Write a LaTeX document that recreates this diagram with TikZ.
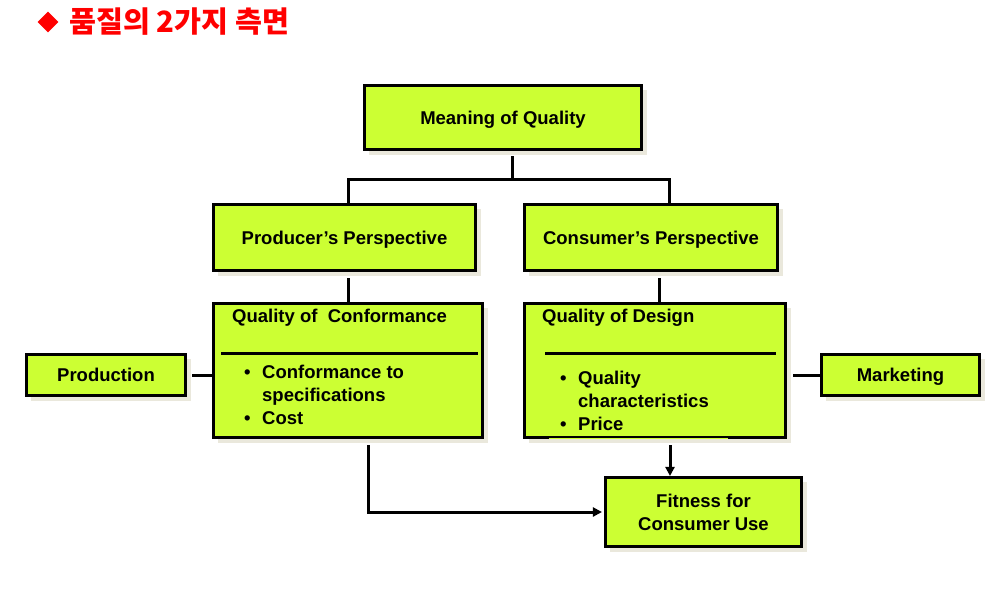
\documentclass[tikz,border=0pt]{standalone}
\usepackage{fontspec}
\setmainfont{Liberation Sans}
\newfontfamily\krfont{Noto Sans CJK KR}
\usetikzlibrary{arrows.meta,shadows,shapes.geometric}
\definecolor{qgreen}{HTML}{CCFF33}
\definecolor{shadowc}{HTML}{EAE8DC}
\definecolor{titlered}{HTML}{FF0000}
\tikzset{
  qbox/.style={draw=black, line width=2.6pt, fill=qgreen, inner sep=0pt,
    drop shadow={shadow xshift=5pt, shadow yshift=-5pt, fill=shadowc, opacity=1},
    font=\fontsize{18.5}{23}\selectfont\bfseries, align=center,
    text height=15pt, text depth=1.8pt},
  qtext/.style={inner sep=0pt, font=\fontsize{18.5}{23}\selectfont\bfseries},
  conn/.style={draw=black, line width=3pt},
  arr/.style={conn, -{Triangle[length=9pt,width=9pt]}},
  qrule/.style={draw=black, line width=3pt}
}
\begin{document}
\begin{tikzpicture}[x=1pt,y=-1pt]
\useasboundingbox (0,0) rectangle (1002,595);
% title
\node[diamond, fill=titlered, inner sep=0pt, minimum width=21pt, minimum height=21pt] (dia) at (48,22) {};
\node[anchor=west, inner sep=0pt, text=titlered, font=\krfont\bfseries\fontsize{29.3}{31}\selectfont] (title) at (69,22) {품질의 2가지 측면};
% boxes
\node[qbox, minimum width=277.5pt, minimum height=64.5pt] (meaning) at (503,117.5) {Meaning of Quality};
\node[qbox, minimum width=262.5pt, minimum height=66.5pt] (prod) at (344.5,237.5) {Producer’s Perspective};
\node[qbox, minimum width=253.5pt, minimum height=66.5pt] (cons) at (651,237.5) {Consumer’s Perspective};
\node[qbox, minimum width=269.5pt, minimum height=134.5pt] (conf) at (348,370.5) {};
\node[qbox, minimum width=261.5pt, minimum height=134.5pt] (design) at (655,370.5) {};
\node[qbox, minimum width=159.5pt, minimum height=41.5pt] (production) at (106,375) {Production};
\node[qbox, minimum width=158.5pt, minimum height=41.5pt] (marketing) at (900.5,375) {Marketing};
\node[qbox, minimum width=196.5pt, minimum height=69.5pt, text height=38pt, text depth=1.8pt] (fitness) at (703.5,512) {Fitness for\\Consumer Use};
% conformance box contents
\node[qtext, anchor=west] (confT) at (232,317.5) {Quality of\ \ Conformance};
\draw[qrule] (221,353) -- (478,353);
\node[qtext, anchor=west] (confL) at (244,396.5) {\begin{tabular}{@{}p{18pt}@{}l@{}}•&Conformance to\\&specifications\\•&Cost\end{tabular}};
% design box contents
\node[qtext, anchor=west] (desT) at (542,317.5) {Quality of Design};
\draw[qrule] (545,353) -- (776,353);
\node[qtext, anchor=west] (desL) at (560,402.5) {\begin{tabular}{@{}p{18pt}@{}l@{}}•&Quality\\&characteristics\\•&Price\end{tabular}};
\draw[qgreen, line width=1.4pt] (549,438.6) -- (728,438.6);
% connectors
\coordinate (jT) at (512,179);
\draw[conn] ([yshift=-5pt]meaning.south -| jT) -- (jT);
\draw[conn] (prod.north -| 348,0) |- (jT) -| (cons.north -| 669,0);
\draw[conn] ([yshift=-6pt]prod.south -| 348,0) -- (conf.north -| 348,0);
\draw[conn] ([yshift=-6pt]cons.south -| 659,0) -- (design.north -| 659,0);
\draw[conn] ([xshift=5pt]production.east) -- (production.east -| conf.west);
\draw[conn] ([xshift=6pt]design.east |- marketing.west) -- (marketing.west);
\draw[arr] ([yshift=-6pt]design.south -| 670,0) -- (fitness.north -| 670,0);
\draw[arr, shorten >=2pt] ([yshift=-6pt]conf.south -| 368,0) |- (fitness.west);
\end{tikzpicture}
\end{document}
